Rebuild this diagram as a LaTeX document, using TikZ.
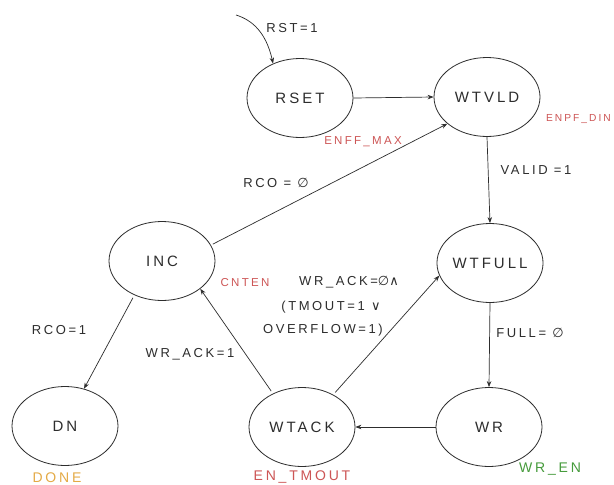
\documentclass[tikz,border=0pt]{standalone}
\usepackage{fontspec}
\usetikzlibrary{shapes.geometric,arrows.meta}
\newfontfamily\hand[LetterSpace=20]{Liberation Sans}
\newfontfamily\symf{DejaVu Sans}
\definecolor{ink}{RGB}{45,45,45}
\definecolor{redink}{RGB}{205,85,85}
\definecolor{orangeink}{RGB}{228,170,70}
\definecolor{greenink}{RGB}{70,155,60}
\tikzset{
  state/.style={ellipse, draw=ink, line width=0.8pt, minimum width=106pt, minimum height=79pt, inner sep=0pt, font=\hand\fontsize{15}{15}\selectfont, text=ink},
  conn/.style={draw=ink, line width=0.7pt, -{Stealth[length=6pt,width=4.5pt]}},
  lbl/.style={font=\hand\fontsize{13}{14}\selectfont, text=ink, inner sep=0pt},
  outlbl/.style={font=\hand\fontsize{11.5}{12}\selectfont, inner sep=0pt},
  smalllbl/.style={font=\hand\fontsize{10.2}{12}\selectfont, inner sep=0pt},
  biglbl/.style={font=\hand\fontsize{14}{14}\selectfont, inner sep=0pt}
}
\newcommand{\myempty}{{\symf ∅}}
\begin{document}
\begin{tikzpicture}[x=1pt,y=-1pt]
\useasboundingbox (0,0) rectangle (614,485);
\fill[white] (0,0) rectangle (614,485);
% states
\node[state] (rset) at (300,98) {RSET};
\node[state] (wtvld) at (487,97) {WTVLD};
\node[state] (wtfull) at (490,263) {WTFULL};
\node[state] (wr) at (489,427) {WR};
\node[state] (wtack) at (302,427) {WTACK};
\node[state] (inc) at (162,261) {INC};
\node[state] (dn) at (65,426) {DN};
% initial arrow
\coordinate (init) at (236,15);
\draw[conn] (init) .. controls (252,20) and (266,32) .. (rset.128);
\node[lbl] (lrst) at (292,28) {RST=1};
% transitions
\draw[conn] (rset.east) -- (wtvld.west);
\draw[conn] (wtvld.south) -- (wtfull.north);
\draw[conn] (wtfull.south) -- (wr.north);
\draw[conn] (wr.west) -- (wtack.east);
\draw[conn, shorten <=2pt] (inc.18) -- (wtvld.214);
\draw[conn, shorten <=3pt] (wtack.46) -- (wtfull.194);
\draw[conn, shorten <=3pt] (wtack.131) -- (inc.324);
\draw[conn, shorten <=3pt] (inc.231) -- (dn.63);
% edge labels
\node[lbl] (lvalid) at (536,170) {VALID =1};
\node[lbl] (lfull) at (530,333) {FULL= \myempty};
\node[lbl] (lrco0) at (276,183) {RCO = \myempty};
\node[lbl] (lrco1) at (59,330) {RCO=1};
\node[lbl] (lwrack1) at (190,354) {WR\_ACK=1};
\node[lbl] (lwrack0a) at (349,282) {WR\_ACK=\myempty{\symf ∧}};
\node[lbl] (lwrack0b) at (331,307) {(TMOUT=1 {\symf ∨}};
\node[lbl] (lwrack0c) at (323,330) {OVERFLOW=1)};
% outputs
\node[outlbl, text=redink] (omax) at (363,142) {ENFF\_MAX};
\node[smalllbl, text=redink, anchor=east] (odin) at (611,119) {ENPF\_DIN};
\node[outlbl, text=redink] (ocnt) at (245,283) {CNTEN};
\node[biglbl, text=redink] (otm) at (302,477) {EN\_TMOUT};
\node[biglbl, text=greenink] (owr) at (550,469) {WR\_EN};
\node[biglbl, text=orangeink] (odone) at (57,478) {DONE};
\end{tikzpicture}
\end{document}
